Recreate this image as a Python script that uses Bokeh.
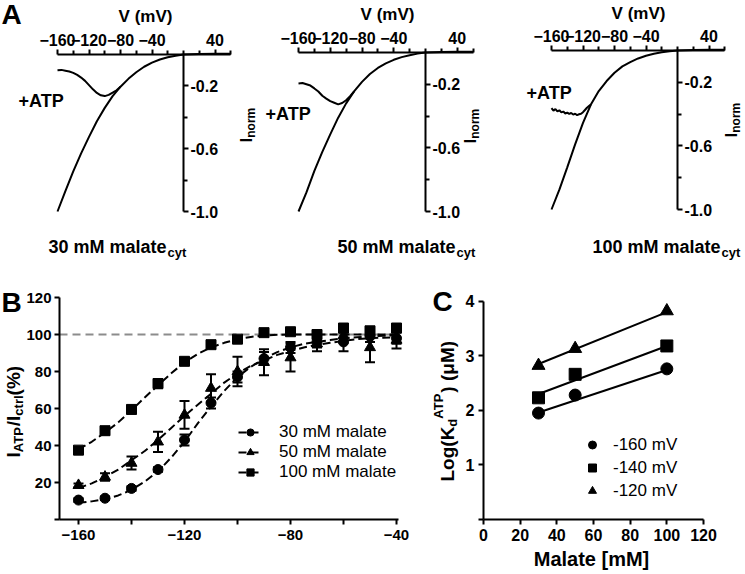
import math
from bokeh.plotting import figure
from bokeh.models import (LinearAxis, FixedTicker, PrintfTickFormatter, Range1d, Label,
                          Whisker, TeeHead, ColumnDataSource, Legend, LegendItem)
from bokeh.layouts import row, column
from bokeh.embed import file_html
from bokeh.resources import INLINE

FONT = "Liberation Sans"

# ---------------- Panel A data (normalised I-V traces) ----------------
A_CTRL_V = [-160, -150, -140, -130, -120, -110, -100, -90, -80, -70, -60, -50, -40, -30, -20, -10, 0, 20, 40, 60]
A1_CTRL_I = [-1.00, -0.87, -0.745, -0.63, -0.525, -0.425, -0.34, -0.265, -0.205, -0.155, -0.113, -0.078,
             -0.052, -0.032, -0.018, -0.008, 0.0, 0.003, 0.004, 0.005]
A2_CTRL_I = [-1.00, -0.88, -0.745, -0.625, -0.515, -0.41, -0.32, -0.245, -0.185, -0.135, -0.097, -0.068,
             -0.046, -0.029, -0.017, -0.007, 0.0, 0.003, 0.004, 0.005]
A3_CTRL_I = [-1.00, -0.875, -0.735, -0.59, -0.455, -0.34, -0.255, -0.192, -0.14, -0.10, -0.073, -0.05,
             -0.033, -0.02, -0.011, -0.004, 0.0, 0.003, 0.004, 0.005]

A1_ATP_V = [-160, -155, -150, -145, -140, -135, -130, -125, -120, -115, -110, -105, -100, -95, -90, -85, -80]
A1_ATP_I = [-0.10, -0.098, -0.103, -0.108, -0.117, -0.13, -0.147, -0.168, -0.195, -0.222, -0.245, -0.26,
            -0.265, -0.257, -0.243, -0.228, -0.205]
A2_ATP_V = [-160, -155, -150, -145, -140, -135, -130, -125, -120, -115, -110, -105, -100, -95, -90]
A2_ATP_I = [-0.195, -0.192, -0.20, -0.208, -0.226, -0.245, -0.272, -0.29, -0.306, -0.316, -0.326, -0.318,
            -0.30, -0.275, -0.245]
A3_ATP_V = [-160, -157.5, -155, -152.5, -150, -147.5, -145, -142.5, -140, -137.5, -135, -132.5, -130,
            -127.5, -125, -122.5, -120, -117.5, -115, -112.5, -110]
A3_ATP_I = [-0.362, -0.378, -0.368, -0.383, -0.376, -0.389, -0.384, -0.396, -0.391, -0.399, -0.393, -0.403,
            -0.398, -0.406, -0.401, -0.398, -0.388, -0.374, -0.36, -0.35, -0.34]

A_XTICKS = [-160, -120, -80, -40, 40]
A_XMINOR = [-140, -100, -60, -20, 0, 20, 60]
A_YTICKS = [-0.2, -0.6, -1.0]
A_YMINOR = [-0.4, -0.8]
A_TITLES = ["30 mM malate", "50 mM malate", "100 mM malate"]

# ---------------- Panel B data ----------------
V_B = [-160, -150, -140, -130, -120, -110, -100, -90, -80, -70, -60, -50, -40]
M30 = [10.5, 11.5, 16.8, 27.0, 43.0, 63.0, 77.0, 87.0, 93.0, 96.0, 96.0, 99.0, 98.0]
E30 = [1.0, 1.0, 1.2, 1.2, 3.0, 3.0, 3.0, 3.5, 3.0, 3.0, 5.0, 3.0, 3.0]
M50 = [18.5, 23.0, 30.5, 42.0, 56.5, 71.0, 80.0, 85.0, 87.5, 95.0, 99.5, 93.0, 97.0]
E50 = [1.0, 2.0, 3.5, 5.5, 7.5, 7.5, 8.0, 7.0, 7.5, 4.0, 4.0, 8.0, 4.5]
M100 = [37.5, 48.0, 59.5, 73.5, 85.5, 94.5, 97.5, 101.0, 101.5, 100.0, 103.5, 102.0, 103.5]
E100 = [1.0, 2.0, 2.0, 2.5, 1.0, 1.0, 1.0, 1.5, 1.5, 1.5, 1.5, 1.5, 1.5]

V_FIT = [-160, -155, -150, -145, -140, -135, -130, -125, -120, -115, -110, -105, -100,
         -95, -90, -85, -80, -75, -70, -65, -60, -55, -50, -45, -40]
FIT30 = [9.0, 9.8, 11.0, 13.0, 16.0, 20.5, 26.0, 33.5, 42.0, 52.0, 61.0, 69.5, 77.0,
         82.5, 87.0, 90.5, 93.0, 95.0, 96.0, 97.0, 98.0, 98.5, 99.0, 99.3, 99.5]
FIT50 = [17.0, 19.5, 23.0, 27.0, 32.0, 37.0, 43.0, 49.5, 56.0, 62.0, 68.0, 74.0, 79.0,
         83.0, 86.0, 89.0, 91.0, 93.0, 94.5, 95.5, 96.5, 97.5, 98.0, 98.3, 98.5]
FIT100 = [38.0, 42.0, 47.0, 52.5, 59.0, 66.0, 72.5, 79.0, 85.0, 89.5, 93.0, 95.5, 97.5,
          98.7, 99.5, 99.8, 100.0, 100.0, 100.0, 100.0, 100.0, 100.0, 100.0, 100.0, 100.0]
REF_LEVEL = 100
B_LABELS = ["30 mM malate", "50 mM malate", "100 mM malate"]
B_XTICKS = [-160, -120, -80, -40]
B_XMINOR = [-140, -100, -60]
B_YTICKS = [20, 40, 60, 80, 100, 120]

# ---------------- Panel C data ----------------
MALATE = [30, 50, 100]
KD160 = [1.95, 2.28, 2.76]
KD140 = [2.23, 2.66, 3.18]
KD120 = [2.82, 3.13, 3.82]
FIT_X = [30, 100]
FIT160 = [1.96, 2.74]
FIT140 = [2.30, 3.18]
FIT120 = [2.85, 3.80]
C_LABELS = ["-160 mV", "-140 mV", "-120 mV"]
C_XTICKS = [0, 20, 40, 60, 80, 100, 120]
C_YTICKS = [1, 2, 3, 4]

# ---------------- helpers ----------------
BOLD_W = {'0': .556, '1': .556, '2': .556, '3': .556, '4': .556, '5': .556, '6': .556, '7': .556,
          '8': .556, '9': .556, ' ': .278, 'm': .889, 'M': .833, 'a': .556, 'l': .278, 't': .333,
          'e': .556, 'c': .556, 'y': .556, 'I': .278, 'A': .722, 'T': .611, 'P': .667, '/': .278,
          'r': .389, '(': .333, ')': .333, '%': .889, 'L': .611, 'o': .611, 'g': .611, 'K': .722,
          'd': .611, 'μ': .611, 'n': .611, '+': .584}
BASE_FIX = 0.27  # empirical baseline correction (fraction of font size)


def tw(text, size):
    return sum(BOLD_W.get(ch, .6) for ch in text) * size


class Panel:
    """Figure whose frame covers the whole canvas; mapping defined by two page anchors per axis."""

    def __init__(self, fig_l, fig_t, fig_w, fig_h, xa, ya):
        (xpa, xva), (xpb, xvb) = xa
        (ypa, yva), (ypb, yvb) = ya
        self.kx = (xvb - xva) / (xpb - xpa)
        self.ky = (yvb - yva) / (ypb - ypa)
        self.xpa, self.xva, self.ypa, self.yva = xpa, xva, ypa, yva
        self.xr = (self.vx(fig_l), self.vx(fig_l + fig_w))
        self.yr = (self.vy(fig_t + fig_h), self.vy(fig_t))
        p = figure(frame_width=fig_w, frame_height=fig_h, x_range=Range1d(*self.xr),
                   y_range=Range1d(*self.yr), output_backend="svg", toolbar_location=None,
                   min_border=0, x_axis_location=None, y_axis_location=None)
        p.outline_line_color = None
        p.xgrid.grid_line_color = None
        p.ygrid.grid_line_color = None
        p.background_fill_color = "white"
        p.border_fill_color = "white"
        self.p = p

    def vx(self, px):
        return self.xva + (px - self.xpa) * self.kx

    def vy(self, py):
        return self.yva + (py - self.ypa) * self.ky

    def text(self, px, py, text, size, bold=True, align="left", angle=0.0):
        if angle == 0.0:
            py -= BASE_FIX * size
        else:
            px -= BASE_FIX * size
        self.p.add_layout(Label(x=self.vx(px), y=self.vy(py), text=text, text_font=FONT,
                                text_font_size=f"{size}px",
                                text_font_style="bold" if bold else "normal", text_align=align,
                                text_baseline="alphabetic", angle=angle, text_color="black"))

    def rot(self, base_x, start_y, pieces):
        y = start_y
        for text, size, shift in pieces:
            self.text(base_x + shift, y, text, size, angle=math.pi / 2)
            y -= tw(text, size)

    def sub(self, px, py, main, sub, size, sub_size, shift=5):
        self.text(px, py, main, size)
        self.text(px + tw(main, size) + 1, py + shift, sub, sub_size)


def style_axis(ax, size, minor_out=4, standoff=5):
    ax.axis_line_width = 2
    ax.axis_line_color = "black"
    ax.major_tick_line_width = 2
    ax.minor_tick_line_width = 2
    ax.major_tick_line_color = "black"
    ax.minor_tick_line_color = "black"
    ax.major_tick_in = 0
    ax.major_tick_out = 5
    ax.minor_tick_in = 0
    ax.minor_tick_out = minor_out
    ax.major_label_standoff = standoff
    ax.major_label_text_font = FONT
    ax.major_label_text_font_style = "bold"
    ax.major_label_text_font_size = f"{size}px"
    ax.major_label_text_color = "black"


# ---------------- Panel A ----------------
TOP_H = 278
a_specs = [
    dict(fig=(0, 258), xa=((57, -160), (183, 0)), ya=((54, 0), (211, -1.0)),
         ctrl=A1_CTRL_I, av=A1_ATP_V, ai=A1_ATP_I,
         vlab=(145, 21), atp=(18, 105), inorm=(251, 142), bx=48),
    dict(fig=(258, 239), xa=((298, -160), (425, 0)), ya=((52, 0), (211, -1.0)),
         ctrl=A2_CTRL_I, av=A2_ATP_V, ai=A2_ATP_I,
         vlab=(387, 19), atp=(265, 118), inorm=(475, 143), bx=337),
    dict(fig=(497, 247), xa=((551, -160), (677, 0)), ya=((50, 0), (209, -1.0)),
         ctrl=A3_CTRL_I, av=A3_ATP_V, ai=A3_ATP_I,
         vlab=(638, 18), atp=(526, 97), inorm=(736, 137), bx=592),
]
a_figs = []
for i, s in enumerate(a_specs):
    P = Panel(s["fig"][0], 0, s["fig"][1], TOP_H, s["xa"], s["ya"])
    p = P.p
    xa = LinearAxis(fixed_location=0, ticker=FixedTicker(ticks=A_XTICKS, minor_ticks=A_XMINOR),
                    bounds=(-160, 60))
    style_axis(xa, 16, minor_out=4, standoff=4)
    p.add_layout(xa, "above")
    ya = LinearAxis(fixed_location=0, ticker=FixedTicker(ticks=A_YTICKS, minor_ticks=A_YMINOR),
                    bounds=(-1.0, 0), formatter=PrintfTickFormatter(format="%.1f"))
    style_axis(ya, 16, minor_out=4, standoff=2)
    p.add_layout(ya, "right")
    p.line(A_CTRL_V, s["ctrl"], line_color="black", line_width=2)
    p.line(s["av"], s["ai"], line_color="black", line_width=2)
    P.text(s["vlab"][0], s["vlab"][1], "V (mV)", 17, align="center")
    P.text(s["atp"][0], s["atp"][1], "+ATP", 18)
    P.rot(s["inorm"][0], s["inorm"][1], [("I", 17, 0), ("norm", 12, 3)])
    P.sub(s["bx"], 251, A_TITLES[i], "cyt", 18, 13, shift=5)
    if i == 0:
        P.text(1, 22, "A", 28)
    a_figs.append(p)

# ---------------- Panel B ----------------
BOT_T, BOT_H = 278, 294
PB = Panel(0, BOT_T, 411, BOT_H, ((78, -160), (396, -40)), ((519, 0), (297, 120)))
pB = PB.p
b_left = PB.vx(59)
bx = LinearAxis(fixed_location=0, ticker=FixedTicker(ticks=B_XTICKS, minor_ticks=B_XMINOR),
                bounds=(b_left, PB.vx(398)))
style_axis(bx, 15, minor_out=5, standoff=5)
pB.add_layout(bx, "below")
by = LinearAxis(fixed_location=b_left, ticker=FixedTicker(ticks=B_YTICKS, minor_ticks=[0]),
                bounds=(0, 120))
style_axis(by, 15, minor_out=5, standoff=3)
pB.add_layout(by, "left")
pB.line([b_left, PB.vx(398)], [REF_LEVEL, REF_LEVEL], line_color="#8c8c8c", line_width=2,
        line_dash="8 5")

items = []
for lab, m, e, fit, marker in [(B_LABELS[0], M30, E30, FIT30, "circle"),
                               (B_LABELS[1], M50, E50, FIT50, "triangle"),
                               (B_LABELS[2], M100, E100, FIT100, "square")]:
    src = ColumnDataSource(dict(x=V_B, upper=[a + b for a, b in zip(m, e)],
                                lower=[a - b for a, b in zip(m, e)]))
    pB.add_layout(Whisker(source=src, base="x", upper="upper", lower="lower", line_width=2,
                          line_color="black", level="glyph",
                          upper_head=TeeHead(size=10, line_width=2, line_color="black"),
                          lower_head=TeeHead(size=10, line_width=2, line_color="black")))
    ln = pB.line(V_FIT, fit, line_color="black", line_width=2, line_dash="8 4")
    sc = pB.scatter(V_B, m, marker=marker, size=10 if marker != "triangle" else 11,
                    fill_color="black", line_color="black")
    items.append(LegendItem(label=lab, renderers=[ln, sc]))
legB = Legend(items=items, location=(238, 90), orientation="vertical", padding=0, margin=0,
              spacing=0, glyph_width=24, glyph_height=18, label_height=18, label_standoff=17,
              label_text_font=FONT, label_text_font_size="17px", label_text_baseline="middle",
              label_text_color="black", border_line_alpha=0, background_fill_alpha=0)
pB.add_layout(legB)
PB.text(1, 310, "B", 28)
PB.rot(18, 457, [("I", 19, 0), ("ATP", 13, 4), ("/", 19, 0), ("I", 19, 0),
                 ("ctrl", 13, 4), ("(%)", 19, 0)])

# ---------------- Panel C ----------------
PC = Panel(411, BOT_T, 333, BOT_H, ((483, 0), (703, 120)), ((519, 0), (300.7, 4)))
pC = PC.p
cx = LinearAxis(fixed_location=0, ticker=FixedTicker(ticks=C_XTICKS, minor_ticks=[]), bounds=(0, 120))
style_axis(cx, 16, standoff=4)
pC.add_layout(cx, "below")
cy = LinearAxis(fixed_location=0, ticker=FixedTicker(ticks=C_YTICKS, minor_ticks=[0]), bounds=(0, 4))
style_axis(cy, 16, minor_out=5, standoff=4)
pC.add_layout(cy, "left")

citems = []
for lab, kd, fit, marker in [(C_LABELS[0], KD160, FIT160, "circle"),
                             (C_LABELS[1], KD140, FIT140, "square"),
                             (C_LABELS[2], KD120, FIT120, "triangle")]:
    pC.line(FIT_X, fit, line_color="black", line_width=2)
    sc = pC.scatter(MALATE, kd, marker=marker, size=12 if marker != "triangle" else 13,
                    fill_color="black", line_color="black")
    citems.append(LegendItem(label=lab, renderers=[sc]))
legC = Legend(items=citems, location=(171, 70), orientation="vertical", padding=0, margin=0,
              spacing=0, glyph_width=20, glyph_height=23, label_height=23, label_standoff=11,
              label_text_font=FONT, label_text_font_size="17px", label_text_baseline="middle",
              label_text_color="black", border_line_alpha=0, background_fill_alpha=0)
pC.add_layout(legC)
PC.text(432, 309, "C", 28)
PC.text(591, 564, "Malate [mM]", 20, align="center")
PC.rot(452, 481, [("Log(K", 19, 0), ("d", 13, 4), ("ATP", 13, -10), (" )", 19, 0),
                  (" (μM)", 19, 0)])

layout = column(row(*a_figs), row(pB, pC))
open("out.html", "w").write(file_html(layout, INLINE))
